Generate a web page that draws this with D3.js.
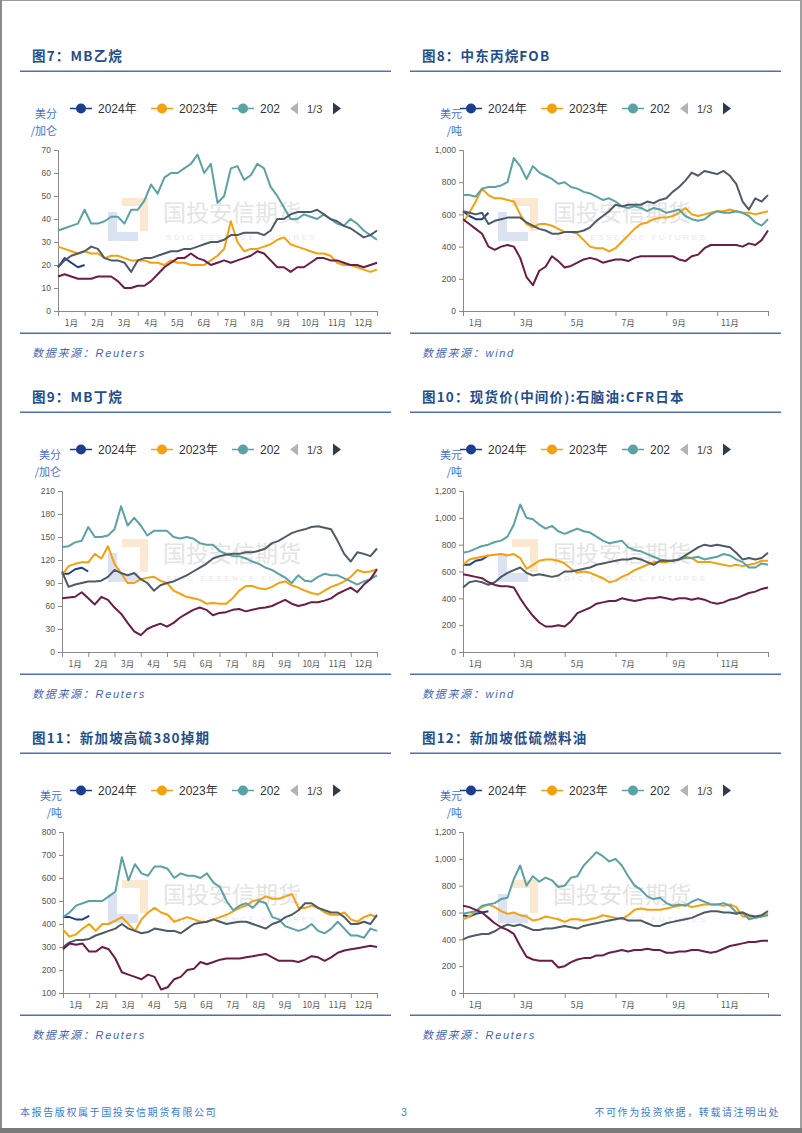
<!DOCTYPE html>
<html><head><meta charset="utf-8">
<script src="https://cdn.jsdelivr.net/npm/d3@7"></script>
<style>body{margin:0;background:#fff}svg{display:block}</style>
</head><body><svg id="c" width="802" height="1133"></svg>
<script>
// ---------- categories / labels ----------
const seriesNames = ["2024年","2023年","202"];
const months12 = ["1月","2月","3月","4月","5月","6月","7月","8月","9月","10月","11月","12月"];
const months6 = ["1月","3月","5月","7月","9月","11月"];

// ---------- 图7 MB乙烷 (美分/加仑) ----------
const ethaneTicks = [0,10,20,30,40,50,60,70];
const ethane2024 = [19,23,21,19,20];
const ethane2023 = [28,27,26,25,26,25,25,23,24,24,23,22,22,22,21,21,20,22,21,21,20,20,20,22,24,27,39,30,26,27,27,28,29,31,32,29,28,27,26,25,25,24,21,20,20,19,18,17,18];
const ethane2022 = [35,36,37,38,44,38,38,39,41,41,38,44,44,48,55,51,58,60,60,62,64,68,60,64,47,50,62,63,57,59,64,62,54,50,45,40,40,42,41,40,42,40,38,37,40,38,35,33,31];
const ethane2021 = [19,22,24,25,26,28,27,23,22,22,21,17,22,23,23,24,25,26,26,27,27,28,29,30,30,31,33,33,34,34,34,33,35,40,40,42,43,43,43,44,42,40,39,37,36,34,32,33,35];
const ethane2020 = [15,16,15,14,14,14,15,15,15,13,10,10,11,11,13,16,19,21,23,23,25,23,22,20,21,22,21,22,23,24,26,25,22,19,19,17,19,19,21,23,23,22,22,21,20,20,19,20,21];

// ---------- 图8 中东丙烷FOB (美元/吨) ----------
const propaneTicks = [0,200,400,600,800,1000];
const propane2024 = [620,590,570,570,610];
const propane2023 = [550,610,680,760,720,700,700,690,680,600,540,520,540,540,530,510,490,490,480,440,400,390,390,370,390,430,470,510,540,550,570,580,580,590,610,640,600,590,600,610,620,620,630,620,610,610,600,610,620];
const propane2022 = [720,720,710,760,770,770,780,800,950,900,820,900,860,840,820,790,800,770,760,740,730,710,690,700,680,650,640,650,640,620,640,630,610,620,630,590,570,560,570,600,620,610,610,620,610,590,550,530,570];
const propane2021 = [620,610,600,610,540,560,570,580,580,580,550,530,510,500,480,480,490,490,490,500,520,560,590,620,660,650,660,660,660,680,670,690,700,740,770,810,860,840,870,860,850,870,840,790,680,630,700,680,720];
const propane2020 = [570,540,510,480,400,380,400,410,400,330,210,160,250,275,340,310,270,280,300,320,330,320,300,310,320,320,310,330,340,340,340,340,340,340,320,310,340,350,390,410,410,410,410,410,400,420,410,440,500];

// ---------- 图9 MB丁烷 (美分/加仑) ----------
const butaneTicks = [0,30,60,90,120,150,180,210];
const butane2024 = [102,102,108,110,105];
const butane2023 = [100,112,115,117,117,128,122,138,115,103,90,90,95,97,98,93,90,80,76,72,70,68,63,64,63,63,70,80,86,86,83,82,85,90,92,87,84,80,77,75,80,85,88,92,98,107,104,105,108];
const butane2022 = [137,138,143,145,163,150,150,152,160,190,165,175,165,152,158,158,158,150,148,150,148,142,140,140,132,128,125,125,122,118,115,110,107,102,97,90,100,93,92,98,102,100,100,96,92,88,92,95,100];
const butane2021 = [105,85,88,90,92,92,93,98,107,103,100,103,95,90,80,87,90,92,96,100,105,110,115,122,125,127,128,128,130,130,132,135,142,145,150,155,158,160,163,164,162,160,145,128,118,130,128,125,135];
const butane2020 = [70,71,72,78,70,62,72,68,58,50,38,27,22,30,34,37,33,38,45,50,55,58,55,48,51,52,55,56,53,55,57,58,60,64,68,63,60,62,65,65,67,70,76,80,84,78,88,95,108];

// ---------- 图10 石脑油 CFR日本 (美元/吨) ----------
const naphthaTicks = [0,200,400,600,800,1000,1200];
const naphtha2024 = [650,650,680,690,720];
const naphtha2023 = [650,690,700,710,720,725,730,720,730,700,620,650,680,690,690,680,660,620,590,600,590,570,550,520,530,560,580,610,630,650,670,670,670,680,690,710,700,670,670,670,660,650,640,650,640,650,660,680,680];
const naphtha2022 = [740,750,770,790,800,820,830,860,950,1100,1000,990,950,920,940,900,880,900,920,900,890,860,830,810,820,830,780,760,750,730,710,690,680,680,690,700,700,710,690,700,710,730,720,690,670,630,630,660,650];
const naphtha2021 = [480,520,530,520,500,520,560,590,610,630,590,570,580,570,560,570,600,600,610,620,630,650,660,670,680,690,690,700,690,670,650,680,680,680,690,720,750,780,800,790,800,790,780,740,690,700,690,700,740];
const naphtha2020 = [580,570,560,550,520,500,490,490,480,400,330,270,220,190,190,200,190,230,290,310,330,360,370,380,380,400,390,380,390,400,400,410,400,390,400,400,390,400,390,370,360,370,390,400,420,440,450,470,480];

// ---------- 图11 新加坡高硫380掉期 (美元/吨) ----------
const hsfoTicks = [100,200,300,400,500,600,700,800];
const hsfo2024 = [430,430,420,420,435];
const hsfo2023 = [375,345,355,380,400,370,400,400,415,430,400,370,420,450,470,450,440,410,420,430,420,410,410,420,430,440,455,470,480,500,505,520,510,510,520,530,470,470,480,470,450,440,440,450,420,410,430,440,430];
const hsfo2022 = [430,450,480,490,500,500,500,520,540,690,590,660,620,610,650,650,640,600,620,610,610,600,620,580,560,500,460,480,490,470,500,490,430,420,390,380,370,380,400,370,360,380,410,380,350,350,340,380,370];
const hsfo2021 = [300,320,330,330,335,350,360,370,380,400,380,370,360,365,380,375,370,370,360,380,400,405,410,420,410,400,405,410,410,400,390,380,400,410,430,440,460,490,490,470,460,450,450,430,400,400,410,400,440];
const hsfo2020 = [290,315,310,315,280,280,300,290,250,190,180,170,160,180,170,115,125,160,170,200,205,235,225,235,245,250,250,250,255,260,265,270,255,240,240,240,235,245,260,255,240,255,275,285,290,295,300,305,300];

// ---------- 图12 新加坡低硫燃料油 (美元/吨) ----------
const lsfoTicks = [0,200,400,600,800,1000,1200];
const lsfo2024 = [580,570,590,600,610];
const lsfo2023 = [550,570,610,640,660,640,610,590,600,580,570,540,550,570,560,550,530,550,550,540,550,560,580,570,560,550,580,620,630,620,620,620,630,640,650,660,640,650,660,660,660,650,660,640,570,570,560,570,590];
const lsfo2022 = [590,600,610,650,660,670,700,710,850,950,800,870,830,860,840,790,800,860,870,950,1000,1050,1020,980,1000,950,870,800,770,720,700,710,670,650,660,650,680,700,680,660,660,670,650,600,600,550,560,570,580];
const lsfo2021 = [400,420,430,440,440,460,490,510,500,510,490,470,470,480,480,490,500,490,480,500,510,520,530,540,550,560,540,540,540,520,500,500,520,530,540,550,560,580,600,610,610,600,600,590,600,580,570,580,610];
const lsfo2020 = [650,640,620,600,560,520,490,470,440,350,270,250,240,240,240,190,200,230,250,260,260,280,280,300,310,320,310,320,320,330,320,320,300,300,310,310,320,320,310,300,310,330,350,360,370,380,380,390,390];

// ---------- styling ----------
const colors = ["#1b3f8e","#f5a00f","#5ba2a5","#4e5a66","#6a1d47"];
const CJK = '"Noto Sans CJK SC","Liberation Sans",sans-serif';
const LAT = '"Liberation Sans","Noto Sans CJK SC",sans-serif';

const charts = [
  {title:"图7：MB乙烷", unit:["美分","/加仑"], src:"数据来源：Reuters", side:0,row:0, ax:58, ticks:ethaneTicks, step:1,
   series:[ethane2024,ethane2023,ethane2022,ethane2021,ethane2020]},
  {title:"图8：中东丙烷FOB", unit:["美元","/吨"], src:"数据来源：wind", side:1,row:0, ax:463, ticks:propaneTicks, step:2,
   series:[propane2024,propane2023,propane2022,propane2021,propane2020]},
  {title:"图9：MB丁烷", unit:["美分","/加仑"], src:"数据来源：Reuters", side:0,row:1, ax:62, ticks:butaneTicks, step:1,
   series:[butane2024,butane2023,butane2022,butane2021,butane2020]},
  {title:"图10：现货价(中间价):石脑油:CFR日本", unit:["美元","/吨"], src:"数据来源：wind", side:1,row:1, ax:463, ticks:naphthaTicks, step:2,
   series:[naphtha2024,naphtha2023,naphtha2022,naphtha2021,naphtha2020]},
  {title:"图11：新加坡高硫380掉期", unit:["美元","/吨"], src:"数据来源：Reuters", side:0,row:2, ax:63, ticks:hsfoTicks, step:1,
   series:[hsfo2024,hsfo2023,hsfo2022,hsfo2021,hsfo2020]},
  {title:"图12：新加坡低硫燃料油", unit:["美元","/吨"], src:"数据来源：Reuters", side:1,row:2, ax:463, ticks:lsfoTicks, step:2,
   series:[lsfo2024,lsfo2023,lsfo2022,lsfo2021,lsfo2020]}
];

const sides = [
  {x0:20, x1:391, tx:32, right:377, leg:81, wm:163},
  {x0:410, x1:781, tx:422, right:768, leg:471, wm:553}
];

const svg = d3.select("#c");
const W = 802, H = 1133;

// page frame
svg.append("rect").attr("x",0).attr("y",0).attr("width",W).attr("height",1).attr("fill","#9a9a9a");
svg.append("rect").attr("x",0).attr("y",0).attr("width",2).attr("height",H).attr("fill","#8c8c8c");
svg.append("rect").attr("x",W-2).attr("y",0).attr("width",2).attr("height",H).attr("fill","#a0a0a0");
svg.append("rect").attr("x",0).attr("y",H-5).attr("width",W).attr("height",5).attr("fill","#7a7a7a");

charts.forEach(c => {
  const s = sides[c.side], dy = 341*c.row;
  const g = svg.append("g");
  const top = 150 + dy, bot = 311 + dy;

  // title + rules
  g.append("text").attr("x",s.tx).attr("y",61+dy).text(c.title)
    .attr("font-family",CJK).attr("font-weight",700).attr("font-size",13.5)
    .attr("letter-spacing",1.2).attr("fill","#1f4e8c");
  g.append("rect").attr("x",s.x0).attr("y",70.5+dy).attr("width",s.x1-s.x0).attr("height",1.5).attr("fill","#4f6fb3");
  g.append("rect").attr("x",s.x0).attr("y",332.5+dy).attr("width",s.x1-s.x0).attr("height",1.5).attr("fill","#4f6fb3");
  g.append("text").attr("x",s.tx).attr("y",357+dy).text(c.src)
    .attr("font-family",LAT).attr("font-style","italic").attr("font-size",11)
    .attr("letter-spacing",1.7).attr("fill","#3f66b3");

  // legend
  const ly = 108.5 + dy;
  seriesNames.forEach((n,i) => {
    const cx = s.leg + i*81;
    g.append("line").attr("x1",cx-11).attr("x2",cx+11).attr("y1",ly).attr("y2",ly)
      .attr("stroke",colors[i]).attr("stroke-width",1.5);
    g.append("circle").attr("cx",cx).attr("cy",ly).attr("r",5).attr("fill",colors[i]);
    g.append("text").attr("x",cx+17).attr("y",ly+4.3).text(n)
      .attr("font-family",LAT).attr("font-size",12).attr("fill","#333");
  });
  g.append("path").attr("d",`M${s.leg+209},${ly} L${s.leg+217},${ly-6} L${s.leg+217},${ly+6} Z`).attr("fill","#b3b3b3");
  g.append("text").attr("x",s.leg+226).attr("y",ly+4).text("1/3")
    .attr("font-family",LAT).attr("font-size",11).attr("fill","#444");
  g.append("path").attr("d",`M${s.leg+252},${ly-6} L${s.leg+260},${ly} L${s.leg+252},${ly+6} Z`).attr("fill","#2e3b4a");

  // unit (two lines)
  g.append("text").attr("x",c.ax-1).attr("y",118+dy).text(c.unit[0]).attr("text-anchor","end")
    .attr("font-family",CJK).attr("font-size",11).attr("fill","#4a6fd0");
  g.append("text").attr("x",c.ax-1).attr("y",135+dy).text(c.unit[1]).attr("text-anchor","end")
    .attr("font-family",CJK).attr("font-size",11).attr("fill","#4a6fd0");

  // scales
  const x = d3.scaleLinear().domain([0,12]).range([c.ax, s.right]);
  const y = d3.scaleLinear().domain([c.ticks[0], c.ticks[c.ticks.length-1]]).range([bot, top]);

  // watermark
  const wx = s.wm, wy = dy;
  const wm = g.append("g").attr("opacity",0.5);
  wm.append("rect").attr("x",wx-41).attr("y",198+wy).attr("width",26).attr("height",8).attr("fill","#f6d3a4");
  wm.append("rect").attr("x",wx-23).attr("y",198+wy).attr("width",8).attr("height",33).attr("fill","#f6d3a4");
  wm.append("rect").attr("x",wx-55).attr("y",212+wy).attr("width",9).attr("height",29).attr("fill","#b9c6e6");
  wm.append("rect").attr("x",wx-55).attr("y",232+wy).attr("width",30).attr("height",9).attr("fill","#b9c6e6");
  g.append("text").attr("x",wx).attr("y",221+wy).text("国投安信期货")
    .attr("font-family",CJK).attr("font-size",23).attr("fill","#e4e4e4");
  g.append("text").attr("x",wx+3).attr("y",240+wy).text("SDIC ESSENCE FUTURES")
    .attr("font-family",LAT).attr("font-size",8).attr("letter-spacing",2.6).attr("fill","#e8e8e8");

  // y axis
  const ya = g.append("g").attr("transform",`translate(${c.ax},0)`)
    .call(d3.axisLeft(y).tickValues(c.ticks).tickFormat(d3.format(",")).tickSize(4).tickPadding(3));
  ya.select(".domain").attr("stroke","#8a8a8a");
  ya.selectAll(".tick line").attr("stroke","#8a8a8a");
  ya.selectAll("text").attr("font-family",LAT).attr("font-size",8.5).attr("fill","#555");

  // x axis (month boundaries) + labels
  const bounds = d3.range(0,13,c.step);
  const xa = g.append("g").attr("transform",`translate(0,${bot})`)
    .call(d3.axisBottom(x).tickValues(bounds).tickSize(5).tickFormat(""));
  xa.select(".domain").attr("stroke","#8a8a8a");
  xa.selectAll(".tick line").attr("stroke","#8a8a8a");
  const labs = c.step===1 ? months12 : months6;
  labs.forEach((m,i) => {
    const mid = c.step===1 ? i+0.5 : i*2+0.5;
    g.append("text").attr("x",x(mid)).attr("y",bot+15).attr("text-anchor","middle").text(m)
      .attr("font-family",CJK).attr("font-size",8.5).attr("fill","#555");
  });

  // lines
  const line = d3.line().x((d,i)=>x(i/4)).y(d=>y(d));
  c.series.forEach((arr,k) => {
    g.append("path").datum(arr).attr("d",line).attr("fill","none")
      .attr("stroke",colors[k]).attr("stroke-width",2).attr("stroke-linejoin","round");
  });
});

// footer
svg.append("text").attr("x",20).attr("y",1116).text("本报告版权属于国投安信期货有限公司")
  .attr("font-family",CJK).attr("font-size",10).attr("letter-spacing",1.6).attr("fill","#3a7bd5");
svg.append("text").attr("x",404).attr("y",1116).text("3").attr("text-anchor","middle")
  .attr("font-family",LAT).attr("font-size",10).attr("fill","#3a7bd5");
svg.append("text").attr("x",780).attr("y",1116).text("不可作为投资依据，转载请注明出处").attr("text-anchor","end")
  .attr("font-family",CJK).attr("font-size",10).attr("letter-spacing",1.6).attr("fill","#3a7bd5");
</script></body></html>
